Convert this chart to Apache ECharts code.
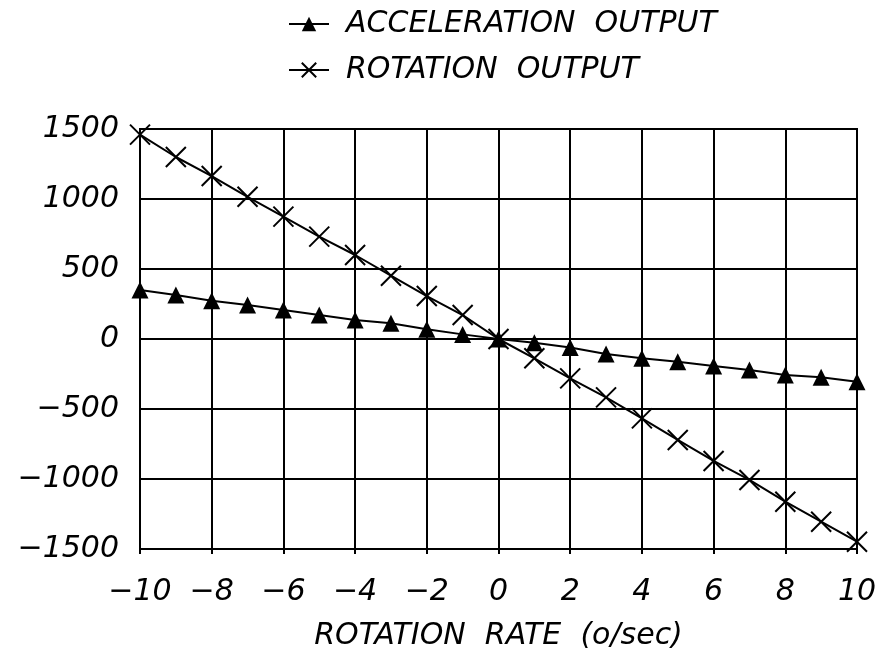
<!DOCTYPE html>
<html><head><meta charset="utf-8">
<script src="https://cdn.jsdelivr.net/npm/echarts@6/dist/echarts.min.js"></script>
<style>html,body{margin:0;padding:0;background:#fff}#c{width:880px;height:658px}</style>
</head><body><div id="c"></div>
<script>
const rates = [-10,-9,-8,-7,-6,-5,-4,-3,-2,-1,0,1,2,3,4,5,6,7,8,9,10];
const accelerationOutput = [350,314,274,243,207,171,136,112,69,33,0,-26,-60,-107,-138,-162,-193,-221,-257,-274,-305];
const rotationOutput = [1460,1300,1164,1016,874,731,600,452,307,171,0,-138,-281,-417,-567,-721,-871,-1007,-1162,-1305,-1448];
const xTicks = [-10,-8,-6,-4,-2,0,2,4,6,8,10];
const yTicks = [-1500,-1000,-500,0,500,1000,1500];

const FONT = '"DejaVu Sans ExtraLight", "DejaVu Sans"';
const TXT = {fontFamily: FONT, fontStyle: 'italic', fontWeight: 200, fontSize: 30, color: '#000'};
const fmt = v => (v < 0 ? '\u2212' + Math.abs(v) : String(v));
const xSymbol = 'path://M0,0L10,10M10,0L0,10';

const chart = echarts.init(document.getElementById('c'));
chart.setOption({
  animation: false,
  backgroundColor: '#fff',
  grid: {left: 140, right: 23, top: 129, bottom: 109, show: true, borderColor: '#000', borderWidth: 2},
  legend: {
    orient: 'vertical', left: 283, top: 4, itemGap: 16, itemWidth: 40, itemHeight: 18,
    textStyle: Object.assign({}, TXT, {padding: [0,0,0,12]}),
    data: ['ACCELERATION  OUTPUT', 'ROTATION  OUTPUT']
  },
  xAxis: {
    type: 'value', min: -10, max: 10, interval: 2,
    name: 'ROTATION  RATE  (o/sec)', nameLocation: 'middle', nameGap: 72,
    nameTextStyle: TXT,
    axisLine: {show: true, onZero: false, lineStyle: {color: '#000', width: 2}},
    axisTick: {show: true, inside: false, length: 5, lineStyle: {color: '#000', width: 2}},
    splitLine: {show: true, lineStyle: {color: '#000', width: 2}},
    axisLabel: Object.assign({}, TXT, {margin: 28, formatter: fmt})
  },
  yAxis: {
    type: 'value', min: -1500, max: 1500, interval: 500,
    axisLine: {show: true, lineStyle: {color: '#000', width: 2}},
    axisTick: {show: true, length: 5, lineStyle: {color: '#000', width: 2}},
    splitLine: {show: true, lineStyle: {color: '#000', width: 2}},
    axisLabel: Object.assign({}, TXT, {margin: 21, formatter: fmt})
  },
  series: [
    {
      name: 'ACCELERATION  OUTPUT', type: 'line',
      data: rates.map((r, i) => [r, accelerationOutput[i]]),
      symbol: 'triangle', symbolSize: 17, showAllSymbol: true,
      lineStyle: {color: '#000', width: 2},
      itemStyle: {color: '#000'}
    },
    {
      name: 'ROTATION  OUTPUT', type: 'line',
      data: rates.map((r, i) => [r, rotationOutput[i]]),
      symbol: xSymbol, symbolSize: 20, showAllSymbol: true,
      lineStyle: {color: '#000', width: 2},
      itemStyle: {color: 'rgba(0,0,0,0)', borderColor: '#000', borderWidth: 2}
    }
  ]
});
</script></body></html>
